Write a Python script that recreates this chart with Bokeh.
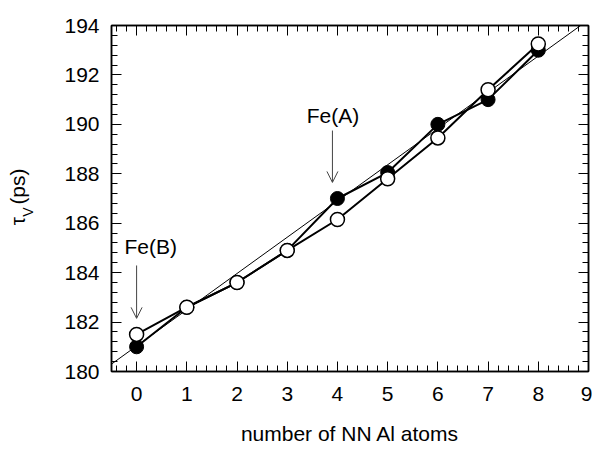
import math
from bokeh.plotting import figure
from bokeh.layouts import row
from bokeh.models import Range1d, LinearAxis, SingleIntervalTicker, Label, Arrow, OpenHead
from bokeh.core.properties import value
from bokeh.embed import file_html
from bokeh.resources import INLINE

# ---- data ----
n_al = [0, 1, 2, 3, 4, 5, 6, 7, 8]
tau_filled = [181.0, 182.6, 183.6, 184.9, 187.0, 188.05, 190.0, 191.0, 193.0]
tau_open = [181.5, 182.6, 183.6, 184.9, 186.15, 187.8, 189.45, 191.4, 193.25]
fit_x = [-0.5, 9.0]
fit_y = [180.3, 194.23]

FONT = "Liberation Sans"
FS = "21px"
W, H = 592, 452
LW = 40  # width of the y-label strip

p = figure(width=W - LW, height=H, x_range=Range1d(-0.5, 9), y_range=Range1d(180, 194),
           output_backend="svg", toolbar_location=None,
           min_border_left=111 - LW, min_border_right=4, min_border_top=25, min_border_bottom=81)
p.xgrid.visible = False
p.ygrid.visible = False
p.outline_line_color = "black"
p.outline_line_width = 1.5
p.background_fill_color = "white"
p.border_fill_color = "white"

def style_axis(ax, labels=True):
    ax.axis_line_color = "black"
    ax.axis_line_width = 1.5
    ax.major_tick_line_color = "black"
    ax.minor_tick_line_color = "black"
    ax.major_tick_line_width = 1
    ax.minor_tick_line_width = 1
    ax.major_tick_in = 10
    ax.major_tick_out = 0
    ax.minor_tick_in = 6
    ax.minor_tick_out = 0
    if labels:
        ax.major_label_text_font = FONT
        ax.major_label_text_font_size = FS
        ax.major_label_text_color = "black"
    else:
        ax.major_label_text_font_size = "1px"
        ax.major_label_text_color = None
        ax.major_label_standoff = 0

p.xaxis.ticker = SingleIntervalTicker(interval=1, num_minor_ticks=5)
p.yaxis.ticker = SingleIntervalTicker(interval=2, num_minor_ticks=5)
style_axis(p.xaxis[0])
style_axis(p.yaxis[0])
p.xaxis.major_label_standoff = 15
p.yaxis.major_label_standoff = 12
p.xaxis.axis_label = "number of NN Al atoms"
p.xaxis.axis_label_text_font = FONT
p.xaxis.axis_label_text_font_size = FS
p.xaxis.axis_label_text_font_style = "normal"
p.xaxis.axis_label_text_color = "black"
p.xaxis.axis_label_standoff = 18

top = LinearAxis(ticker=SingleIntervalTicker(interval=1, num_minor_ticks=5))
right = LinearAxis(ticker=SingleIntervalTicker(interval=2, num_minor_ticks=5))
style_axis(top, labels=False)
style_axis(right, labels=False)
p.add_layout(top, "above")
p.add_layout(right, "right")

# fit line
p.line(fit_x, fit_y, line_width=1, color="black")
# filled series
p.line(n_al, tau_filled, line_width=2, color="black")
p.scatter(n_al, tau_filled, size=14, fill_color="black", line_color="black")
# open series
p.line(n_al, tau_open, line_width=2, color="black")
p.scatter(n_al, tau_open, size=14, fill_color="white", line_color="black", line_width=1.5)

# annotations
p.add_layout(Arrow(end=OpenHead(size=11, line_width=1, line_color="#444444"),
                   x_start=0, y_start=184.29, x_end=0, y_end=182.15,
                   line_width=1, line_color="#444444"))
p.add_layout(Arrow(end=OpenHead(size=11, line_width=1, line_color="#444444"),
                   x_start=3.9, y_start=189.75, x_end=3.9, y_end=187.65,
                   line_width=1, line_color="#444444"))
p.add_layout(Label(x=0.28, y=185.06, text="Fe(B)", text_font=FONT, text_font_size=FS,
                   text_align="center", text_baseline="alphabetic", text_color="black"))
p.add_layout(Label(x=3.91, y=190.36, text="Fe(A)", text_font=FONT, text_font_size=FS,
                   text_align="center", text_baseline="alphabetic", text_color="black"))

# ---- y-axis title strip: tau with subscript V, rotated ----
ylab_text = ["τ", "V", "(ps)"]
ylab_x = [17, 27, 17]
ylab_y = [H - 261, H - 250, H - 234]
ylab_size = ["21px", "14px", "21px"]

lab = figure(width=LW, height=H, x_range=Range1d(0, LW), y_range=Range1d(0, H),
             x_axis_type=None, y_axis_type=None, output_backend="svg", toolbar_location=None,
             min_border_left=0, min_border_right=0, min_border_top=0, min_border_bottom=0)
lab.outline_line_color = None
lab.xgrid.visible = False
lab.ygrid.visible = False
lab.background_fill_color = "white"
lab.border_fill_color = "white"
lab.text(x=ylab_x, y=ylab_y, text=ylab_text, angle=math.pi / 2,
         text_font=value(FONT), text_font_size=ylab_size,
         text_align="left", text_baseline="middle", text_color="black")

layout = row(lab, p, spacing=0)
open("out.html", "w").write(file_html(layout, INLINE))
